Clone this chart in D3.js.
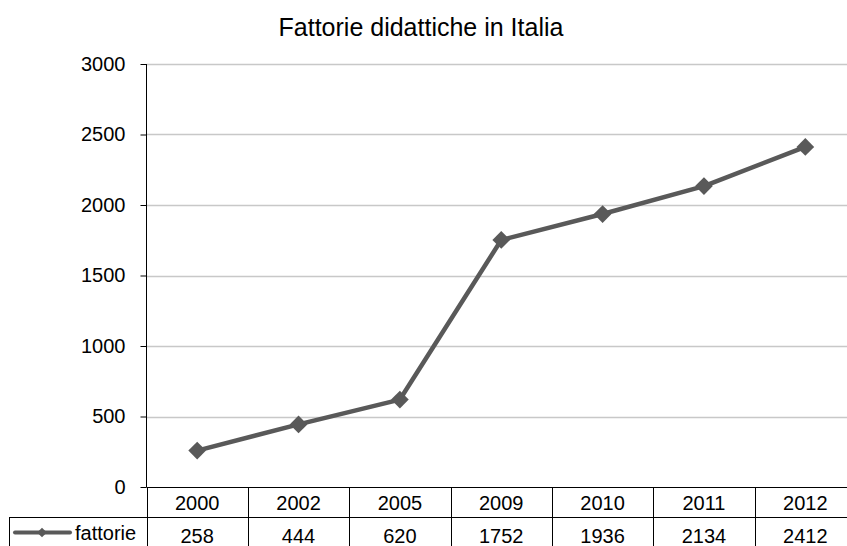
<!DOCTYPE html>
<html>
<head>
<meta charset="utf-8">
<script src="https://cdn.jsdelivr.net/npm/d3@7"></script>
<style>
  body { margin: 0; background: #fff; }
  svg { display: block; font-family: "Liberation Sans", Arial, sans-serif; }
</style>
</head>
<body>
<svg id="chart" width="847" height="546"></svg>
<script>
// Chart data
const years = ["2000", "2002", "2005", "2009", "2010", "2011", "2012"];
const fattorie = [258, 444, 620, 1752, 1936, 2134, 2412];
const yTicks = [0, 500, 1000, 1500, 2000, 2500, 3000];
const seriesName = "fattorie";
const title = "Fattorie didattiche in Italia";

const conf = {
  left: 146.5,
  right: 856,
  top: 64,
  bottom: 487,
  rowH: 30,
  fontSize: 20,
  lineColor: "#595959",
};

const svg = d3.select("#chart");

const x = d3.scaleBand()
  .domain(years)
  .range([conf.left, conf.right]);

const y = d3.scaleLinear()
  .domain([0, 3000])
  .range([conf.bottom, conf.top]);

// Title
svg.append("text")
  .attr("x", 421)
  .attr("y", 36)
  .attr("text-anchor", "middle")
  .attr("font-size", 25)
  .attr("fill", "#000")
  .text(title);

// Gridlines
svg.append("g")
  .selectAll("line")
  .data(yTicks.filter(d => d > 0))
  .enter().append("line")
  .attr("x1", conf.left)
  .attr("x2", conf.right)
  .attr("y1", d => Math.round(y(d)) + 0.5)
  .attr("y2", d => Math.round(y(d)) + 0.5)
  .attr("stroke", "#c8c8c8")
  .attr("stroke-width", 1.5);

// Y axis
const yAxis = d3.axisLeft(y)
  .tickValues(yTicks)
  .tickSize(6)
  .tickPadding(15)
  .tickFormat(d3.format("d"));

const ya = svg.append("g")
  .attr("transform", `translate(${conf.left},0)`)
  .attr("font-size", conf.fontSize)
  .attr("font-family", "Liberation Sans, Arial, sans-serif")
  .call(yAxis);
ya.attr("font-size", conf.fontSize)
  .attr("font-family", "Liberation Sans, Arial, sans-serif");
ya.select(".domain").remove();
ya.selectAll("line").attr("stroke", "#000");
ya.selectAll("text").attr("fill", "#000");
ya.append("line")
  .attr("x1", 0).attr("x2", 0)
  .attr("y1", conf.top).attr("y2", conf.bottom)
  .attr("stroke", "#000");

// Data table
const tbl = svg.append("g").attr("font-size", conf.fontSize);
const row1 = conf.bottom;
const row2 = conf.bottom + conf.rowH;
const row3 = row2 + conf.rowH + 5;

tbl.append("line")
  .attr("x1", conf.left).attr("x2", conf.right)
  .attr("y1", row1 + 0.5).attr("y2", row1 + 0.5)
  .attr("stroke", "#000");
tbl.append("line")
  .attr("x1", 9).attr("x2", conf.right)
  .attr("y1", row2 + 0.5).attr("y2", row2 + 0.5)
  .attr("stroke", "#000");
tbl.append("line")
  .attr("x1", 9.5).attr("x2", 9.5)
  .attr("y1", row2).attr("y2", row3)
  .attr("stroke", "#000");

tbl.selectAll("line.sep")
  .data(years)
  .enter().append("line")
  .attr("class", "sep")
  .attr("x1", d => Math.round(x(d)) + 0.5)
  .attr("x2", d => Math.round(x(d)) + 0.5)
  .attr("y1", row1)
  .attr("y2", row3)
  .attr("stroke", "#000");

tbl.selectAll("text.yr")
  .data(years)
  .enter().append("text")
  .attr("class", "yr")
  .attr("x", d => x(d) + x.bandwidth() / 2)
  .attr("y", row1 + 22.5)
  .attr("text-anchor", "middle")
  .text(d => d);

tbl.selectAll("text.val")
  .data(fattorie)
  .enter().append("text")
  .attr("class", "val")
  .attr("x", (d, i) => x(years[i]) + x.bandwidth() / 2)
  .attr("y", row2 + 26)
  .attr("text-anchor", "middle")
  .text(d => d);

// Legend key in table
const diamond = d3.symbol().type(d3.symbolDiamond2);
tbl.append("line")
  .attr("x1", 15).attr("x2", 70)
  .attr("y1", row2 + 15.5).attr("y2", row2 + 15.5)
  .attr("stroke", conf.lineColor)
  .attr("stroke-width", 4)
  .attr("stroke-linecap", "round");
tbl.append("path")
  .attr("d", diamond.size(60)())
  .attr("transform", `translate(42,${row2 + 15.5})`)
  .attr("fill", conf.lineColor);
tbl.append("text")
  .attr("x", 75)
  .attr("y", row2 + 23)
  .text(seriesName);

// Series line
const pts = years.map((yr, i) => [x(yr) + x.bandwidth() / 2, y(fattorie[i])]);

svg.append("path")
  .datum(pts)
  .attr("d", d3.line())
  .attr("fill", "none")
  .attr("stroke", conf.lineColor)
  .attr("stroke-width", 4.5)
  .attr("stroke-linejoin", "round");

svg.append("g")
  .selectAll("path")
  .data(pts)
  .enter().append("path")
  .attr("d", diamond.size(200)())
  .attr("transform", d => `translate(${d[0]},${d[1]})`)
  .attr("fill", conf.lineColor);
</script>
</body>
</html>
